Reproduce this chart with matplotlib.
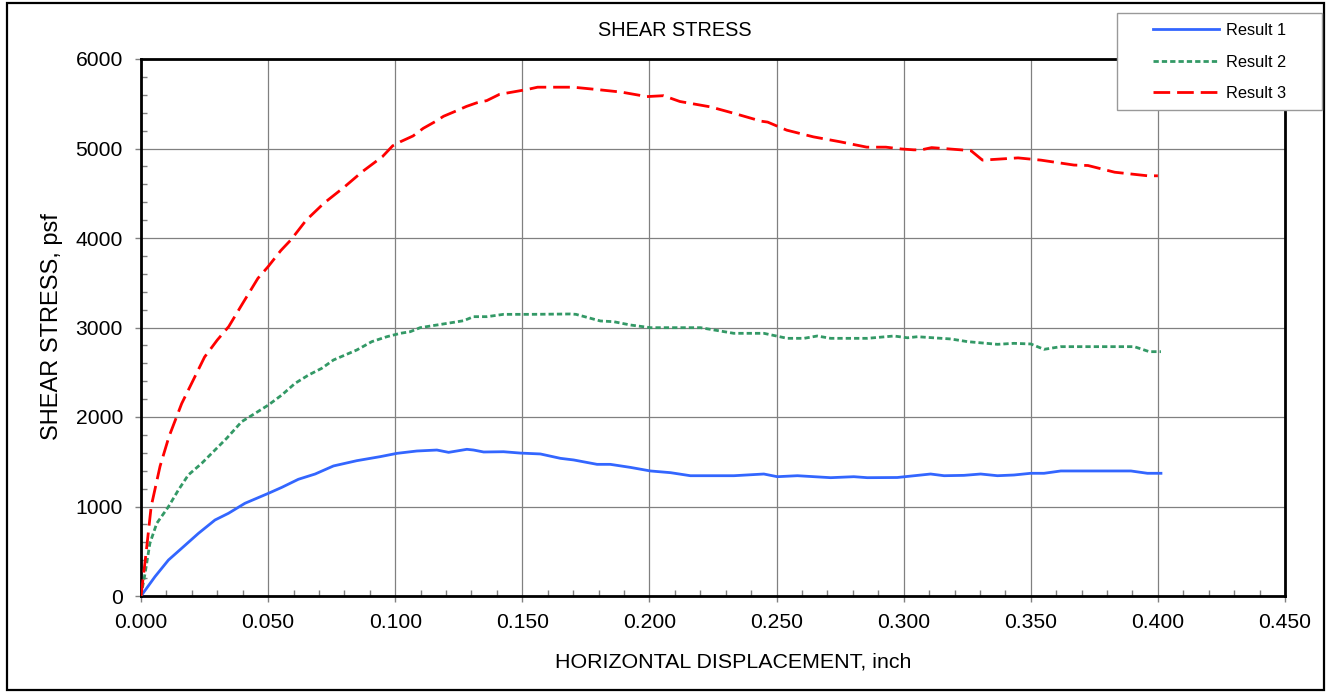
import matplotlib
matplotlib.use("Agg")
import matplotlib.pyplot as plt
from matplotlib.patches import Rectangle
from matplotlib.ticker import MultipleLocator, FormatStrFormatter

plt.rcParams['font.family'] = ['Liberation Sans', 'DejaVu Sans']

# data (x in inch, y in psf)
x1 = [0, 0.0055, 0.0108, 0.016, 0.0226, 0.0291, 0.0344, 0.0409, 0.0501, 0.0554,
      0.0619, 0.0685, 0.0757, 0.0849, 0.0941, 0.1007, 0.1085, 0.1164, 0.121, 0.1282,
      0.1308, 0.1348, 0.1426, 0.1492, 0.1571, 0.165, 0.1702, 0.1794, 0.1846, 0.1925,
      0.2004, 0.2083, 0.2161, 0.2332, 0.245, 0.2503, 0.2582, 0.2713, 0.2804, 0.2857,
      0.2975, 0.3106, 0.3159, 0.3237, 0.3303, 0.3369, 0.3434, 0.35, 0.3552, 0.3618,
      0.3894, 0.3959, 0.4012]
y1 = [0, 216, 402, 533, 700, 849, 924, 1036, 1147, 1214,
      1304, 1363, 1453, 1512, 1557, 1594, 1620, 1631, 1605, 1639,
      1631, 1609, 1612, 1597, 1587, 1538, 1520, 1471, 1471, 1437,
      1397, 1378, 1344, 1344, 1363, 1333, 1344, 1322, 1333, 1322,
      1324, 1363, 1344, 1348, 1363, 1344, 1352, 1371, 1371, 1397,
      1397, 1371, 1371]

x2 = [0, 0.0016, 0.0035, 0.0062, 0.0108, 0.0147, 0.0186, 0.0239, 0.0291, 0.0337,
      0.0396, 0.0449, 0.0501, 0.0554, 0.0606, 0.0659, 0.0711, 0.0757, 0.0849, 0.0908,
      0.0967, 0.102, 0.1059, 0.1098, 0.1164, 0.123, 0.1269, 0.1308, 0.1361, 0.1426,
      0.1531, 0.1689, 0.1711, 0.1807, 0.1859, 0.1925, 0.2004, 0.2201, 0.2332, 0.245,
      0.2542, 0.2608, 0.266, 0.2713, 0.2857, 0.2962, 0.3015, 0.3054, 0.3185, 0.3251,
      0.3369, 0.3434, 0.35, 0.3552, 0.3618, 0.3907, 0.3966, 0.4012]
y2 = [0, 253, 589, 812, 998, 1184, 1352, 1483, 1631, 1762,
      1948, 2041, 2134, 2246, 2376, 2469, 2544, 2637, 2749, 2842,
      2897, 2935, 2953, 2998, 3028, 3058, 3076, 3121, 3121, 3147,
      3147, 3151, 3147, 3073, 3065, 3028, 2998, 2998, 2935, 2935,
      2879, 2879, 2905, 2879, 2879, 2905, 2885, 2897, 2872, 2842,
      2812, 2823, 2816, 2756, 2786, 2786, 2730, 2730]

x3 = [0, 0.002, 0.004, 0.0075, 0.011, 0.016, 0.0205, 0.025, 0.030, 0.0345,
      0.040, 0.046, 0.050, 0.055, 0.059, 0.065, 0.072, 0.080, 0.087, 0.095,
      0.099, 0.102, 0.107, 0.111, 0.116, 0.119, 0.124, 0.128, 0.132, 0.136,
      0.141, 0.147, 0.152, 0.156, 0.170, 0.179, 0.189, 0.199, 0.2055, 0.212,
      0.224, 0.233, 0.244, 0.2465, 0.254, 0.2645, 0.275, 0.2855, 0.293, 0.299,
      0.304, 0.307, 0.311, 0.3225, 0.3265, 0.331, 0.345, 0.354, 0.367, 0.3725,
      0.383, 0.396, 0.400]
y3 = [0, 480, 1000, 1450, 1780, 2150, 2410, 2670, 2860, 3010,
      3270, 3550, 3680, 3860, 3980, 4200, 4390, 4570, 4740, 4910,
      5030, 5075, 5140, 5225, 5305, 5360, 5420, 5470, 5510, 5535,
      5605, 5635, 5660, 5685, 5685, 5660, 5630, 5580, 5590, 5525,
      5465, 5395, 5305, 5295, 5205, 5130, 5075, 5015, 5015, 4995,
      4985, 4985, 5010, 4985, 4975, 4870, 4895, 4870, 4815, 4810,
      4735, 4695, 4695]

labels = ["Result 1", "Result 2", "Result 3"]

W, H = 1331, 692
fig = plt.figure(figsize=(W / 100, H / 100), dpi=100)
ax = fig.add_axes([141 / W, 1 - 596 / H, (1285 - 141) / W, (596 - 59) / H])

ax.plot(x1, y1, color="#3366FF", lw=2, label=labels[0], zorder=3)
ax.plot(x2, y2, color="#339966", lw=2, dashes=(1.9, 1.1), label=labels[1], zorder=3)
ax.plot(x3, y3, color="#FF0000", lw=2, dashes=(6, 2.5), label=labels[2], zorder=3)

ax.set_xlim(0, 0.45)
ax.set_ylim(0, 6000)
ax.xaxis.set_major_locator(MultipleLocator(0.05))
ax.xaxis.set_minor_locator(MultipleLocator(0.01))
ax.xaxis.set_major_formatter(FormatStrFormatter("%.3f"))
ax.yaxis.set_major_locator(MultipleLocator(1000))
ax.yaxis.set_minor_locator(MultipleLocator(200))
ax.grid(True, which="major", color="#808080", lw=0.9)
ax.tick_params(which="major", direction="out", length=4.5, width=1, color="#808080",
               labelsize=15.2)
ax.tick_params(axis="x", which="major", pad=7.5)
ax.tick_params(axis="y", which="major", pad=8.5)
ax.tick_params(which="minor", direction="in", length=4, width=1, color="#808080")
for s in ax.spines.values():
    s.set_linewidth(2)
    s.set_color("black")

fig.text(675 / W, 1 - 31 / H, "SHEAR STRESS", ha="center", va="center", fontsize=14.3)
fig.text(733 / W, 1 - 662 / H, "HORIZONTAL DISPLACEMENT, inch", ha="center", va="center",
         fontsize=15.4)
fig.text(52 / W, 1 - 327 / H, "SHEAR STRESS, psf", ha="center", va="center",
         rotation=90, fontsize=17)

# outer border and legend box
fig.patches.append(Rectangle((7 / W, 1 - 690 / H), (1324 - 7) / W, (690 - 3) / H,
                             transform=fig.transFigure, fill=False, ec="black", lw=1.6,
                             zorder=2))
fig.patches.append(Rectangle((1117 / W, 1 - 110 / H), (1322 - 1117) / W, (110 - 13) / H,
                             transform=fig.transFigure, fc="white", ec="#999999", lw=1,
                             zorder=3))
handles, _ = ax.get_legend_handles_labels()
fig.legend(handles, labels, loc="upper left", bbox_to_anchor=(1145 / W, 1 - 15 / H),
           frameon=False, borderpad=0, handlelength=4, handletextpad=0.45,
           labelspacing=1.0, fontsize=11.8)

fig.savefig("out.png", dpi=100)
